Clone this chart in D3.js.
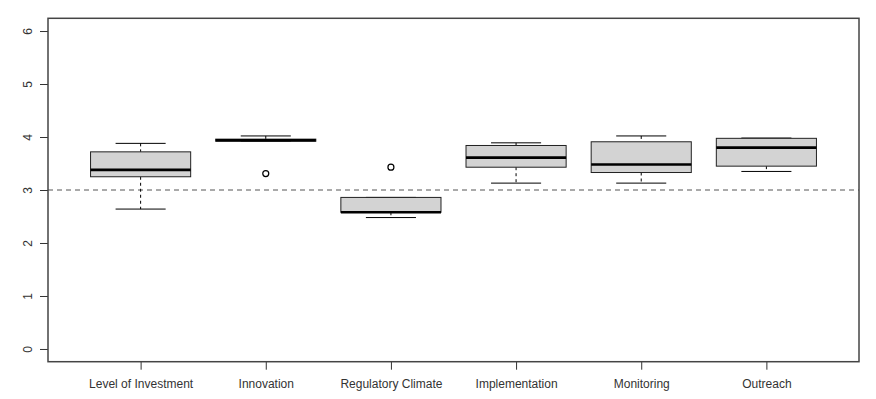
<!DOCTYPE html>
<html>
<head>
<meta charset="utf-8">
<script src="https://cdn.jsdelivr.net/npm/d3@7"></script>
<style>
	body { margin: 0; background: #fff; }
	text { font-family: "Liberation Sans", Arial, sans-serif; }
</style>
</head>
<body>
<svg id="chart" width="876" height="399"></svg>
<script>
// Data
const categories = ["Level of Investment", "Innovation", "Regulatory Climate", "Implementation", "Monitoring", "Outreach"];
const whiskerLow = [2.64, 3.92, 2.48, 3.13, 3.13, 3.35];
const q1 = [3.25, 3.92, 2.58, 3.43, 3.33, 3.45];
const median = [3.38, 3.94, 2.58, 3.61, 3.48, 3.80];
const q3 = [3.72, 3.96, 2.86, 3.84, 3.91, 3.975];
const whiskerHigh = [3.88, 4.02, 2.86, 3.89, 4.02, 3.98];
const outliers = [[], [3.31], [3.43], [], [], []];
const yTicks = [0, 1, 2, 3, 4, 5, 6];
const refLine = 3;

const boxes = categories.map((name, i) => ({
	name,
	pos: i + 1,
	lo: whiskerLow[i],
	q1: q1[i],
	med: median[i],
	q3: q3[i],
	hi: whiskerHigh[i],
	out: outliers[i],
}));

const svg = d3.select("#chart");
const plotLeft = 48, plotRight = 859, plotTop = 18.3, plotBottom = 361.7;

// R style: 4% padding round the data range
const x = d3.scaleLinear().domain([0.26, 6.74]).range([plotLeft, plotRight]);
const y = d3.scaleLinear().domain([-0.24, 6.24]).range([plotBottom, plotTop]);
const boxW = x(1.8) - x(1); // boxwex 0.8

const textColor = "#333";

// Y axis
const yAxis = svg.append("g")
	.attr("transform", `translate(${plotLeft},0)`)
	.call(d3.axisLeft(y).tickValues(yTicks).tickFormat(d3.format("d")).tickSize(8).tickPadding(0));
yAxis.select(".domain").remove();
yAxis.selectAll("line").attr("stroke", "#333");
yAxis.selectAll("text")
	.attr("x", null)
	.attr("text-anchor", "middle")
	.attr("fill", textColor)
	.style("font-size", "12px")
	.attr("transform", "translate(-20,0) rotate(-90)")
	.attr("dy", "0.35em");

// X axis
const xAxis = svg.append("g")
	.attr("transform", `translate(0,${plotBottom})`)
	.call(d3.axisBottom(x)
		.tickValues(boxes.map((d) => d.pos))
		.tickFormat((d) => categories[d - 1])
		.tickSize(8)
		.tickPadding(10));
xAxis.select(".domain").remove();
xAxis.selectAll("line").attr("stroke", "#333");
xAxis.selectAll("text").attr("fill", textColor).style("font-size", "12px");

// Reference line
svg.append("line")
	.attr("x1", plotLeft).attr("x2", plotRight)
	.attr("y1", y(refLine)).attr("y2", y(refLine))
	.attr("stroke", "#555")
	.attr("stroke-width", 1)
	.attr("stroke-dasharray", "5,4");

const g = svg.append("g").selectAll("g").data(boxes).join("g");

// whiskers (dashed)
g.append("line")
	.attr("x1", (d) => x(d.pos)).attr("x2", (d) => x(d.pos))
	.attr("y1", (d) => y(d.hi)).attr("y2", (d) => y(d.q3))
	.attr("stroke", "#000").attr("stroke-dasharray", "3,3");
g.append("line")
	.attr("x1", (d) => x(d.pos)).attr("x2", (d) => x(d.pos))
	.attr("y1", (d) => y(d.q1)).attr("y2", (d) => y(d.lo))
	.attr("stroke", "#000").attr("stroke-dasharray", "3,3");

// caps
g.append("line")
	.attr("x1", (d) => x(d.pos) - boxW / 4).attr("x2", (d) => x(d.pos) + boxW / 4)
	.attr("y1", (d) => y(d.hi)).attr("y2", (d) => y(d.hi))
	.attr("stroke", "#000");
g.append("line")
	.attr("x1", (d) => x(d.pos) - boxW / 4).attr("x2", (d) => x(d.pos) + boxW / 4)
	.attr("y1", (d) => y(d.lo)).attr("y2", (d) => y(d.lo))
	.attr("stroke", "#000");

// box
g.append("rect")
	.attr("x", (d) => x(d.pos) - boxW / 2)
	.attr("width", boxW)
	.attr("y", (d) => y(d.q3))
	.attr("height", (d) => y(d.q1) - y(d.q3))
	.attr("fill", "#d3d3d3")
	.attr("stroke", "#222")
	.attr("stroke-width", 1);

// median
g.append("line")
	.attr("x1", (d) => x(d.pos) - boxW / 2).attr("x2", (d) => x(d.pos) + boxW / 2)
	.attr("y1", (d) => y(d.med)).attr("y2", (d) => y(d.med))
	.attr("stroke", "#000").attr("stroke-width", 2.6);

// outliers
g.selectAll("circle")
	.data((d) => d.out.map((v) => ({ pos: d.pos, v })))
	.join("circle")
	.attr("cx", (d) => x(d.pos))
	.attr("cy", (d) => y(d.v))
	.attr("r", 3)
	.attr("fill", "none")
	.attr("stroke", "#000")
	.attr("stroke-width", 1.2);

// frame
svg.append("rect")
	.attr("x", plotLeft).attr("y", plotTop)
	.attr("width", plotRight - plotLeft).attr("height", plotBottom - plotTop)
	.attr("fill", "none")
	.attr("stroke", "#444")
	.attr("stroke-width", 1.5);
</script>
</body>
</html>
